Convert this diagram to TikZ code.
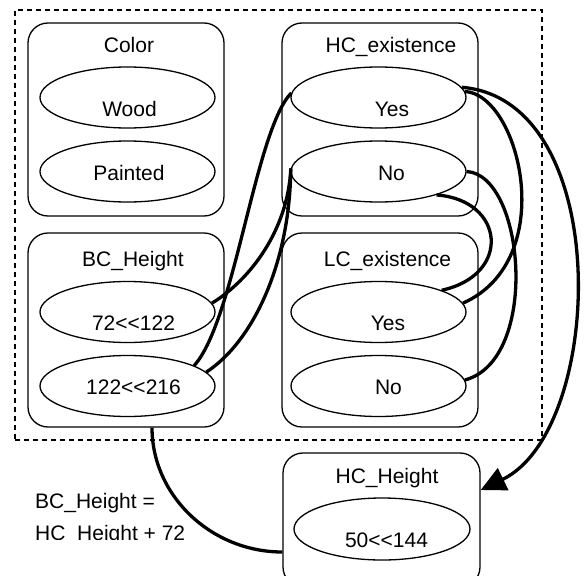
\documentclass[tikz,border=0pt]{standalone}
\usepackage{fontspec}
\setmainfont{Liberation Sans}
\usetikzlibrary{arrows.meta,shapes.geometric}
\begin{document}
\begin{tikzpicture}[x=1pt,y=-1pt,
  box/.style={draw,rounded corners=20pt,line width=1.3pt,minimum width=196pt,minimum height=193pt,inner sep=0pt},
  val/.style={draw,ellipse,line width=1.3pt,minimum width=175pt,minimum height=61pt,inner sep=0pt},
  lbl/.style={anchor=base,font=\fontsize{21}{25}\selectfont,inner sep=0pt},
  frame/.style={draw,dashed,dash pattern=on 5pt off 4pt,line width=1.1pt,minimum width=527pt,minimum height=430pt,inner sep=0pt},
  link/.style={line width=3.3pt}]
\fill[white] (0,0) rectangle (585,575);
\clip (0,0) rectangle (585,575);
% container
\node[frame] (frame) at (278.5,225) {};
% boxes
\node[box] (color) at (126,119.5) {};
\node[box,minimum height=194pt] (bch) at (126,330) {};
\node[box] (hce) at (380,119.5) {};
\node[box,minimum height=194pt] (lce) at (380,330) {};
\node[box,minimum width=197pt,minimum height=134pt] (hchbox) at (381.5,520) {};
% titles
\node[lbl] (tcolor) at (129,52.5) {Color};
\node[lbl] (tbch) at (133,266.5) {BC\_Height};
\node[lbl] (thce) at (391,52.5) {HC\_existence};
\node[lbl] (tlce) at (387.5,266.5) {LC\_existence};
\node[lbl] (thch) at (387,483) {HC\_Height};
% values
\node[val] (wood) at (127.5,97.5) {};
\node[val] (painted) at (127.5,171.5) {};
\node[val] (bclow) at (127.5,312) {};
\node[val] (bchigh) at (127.5,386) {};
\node[val] (hcyes) at (378.5,97.5) {};
\node[val] (hcno) at (378.5,171.5) {};
\node[val] (lcyes) at (378.5,312) {};
\node[val] (lcno) at (378.5,386) {};
\node[val,minimum width=176pt,minimum height=62pt] (hchval) at (382,529) {};
% value texts
\node[lbl] (xwood) at (129.5,116) {Wood};
\node[lbl] (xpainted) at (129,180) {Painted};
\node[lbl] (xbclow) at (133.5,330) {72<{}<122};
\node[lbl] (xbchigh) at (133.5,394.5) {122<{}<216};
\node[lbl] (xhcyes) at (392,116) {Yes};
\node[lbl] (xhcno) at (391.5,180) {No};
\node[lbl] (xlcyes) at (388,330) {Yes};
\node[lbl] (xlcno) at (388.5,394.5) {No};
\node[lbl] (xhchval) at (386.5,547.5) {50<{}<144};
% constraint text
\node[lbl,anchor=base west] (eq1) at (35,508) {BC\_Height =};
\begin{scope}
\clip (0,0) rectangle (585,539.5);
\node[lbl,anchor=base west] (eq2) at (35,540) {HC\_Height + 72};
\end{scope}
% left connectors
\draw[link] (hcyes.177) .. controls (255,130) and (235,320) .. (bchigh.17);
\draw[link] (hcno.178) .. controls (288,230) and (250,280) .. (bclow.6);
\draw[link] (hcno.178) .. controls (290,260) and (255,340) .. (bchigh.10);
% right connectors
\draw[link,-{Triangle[length=25pt,width=24pt]}] (hcyes.7) .. controls (615,100) and (605,430) .. ([yshift=30pt]hchbox.east);
\draw[link] (hcyes.4) .. controls (520,95) and (560,260) .. (lcyes.6);
\draw[link] (hcno.0) .. controls (525,175) and (540,360) .. (lcno.4);
\draw[link] (hcno.-22) .. controls (505,200) and (512,275) .. (lcyes.19);
% bottom connector
\draw[link] ([xshift=26pt]bch.south) .. controls (152,496) and (211.6,552) .. ([yshift=-32pt]hchbox.west);
\end{tikzpicture}
\end{document}
